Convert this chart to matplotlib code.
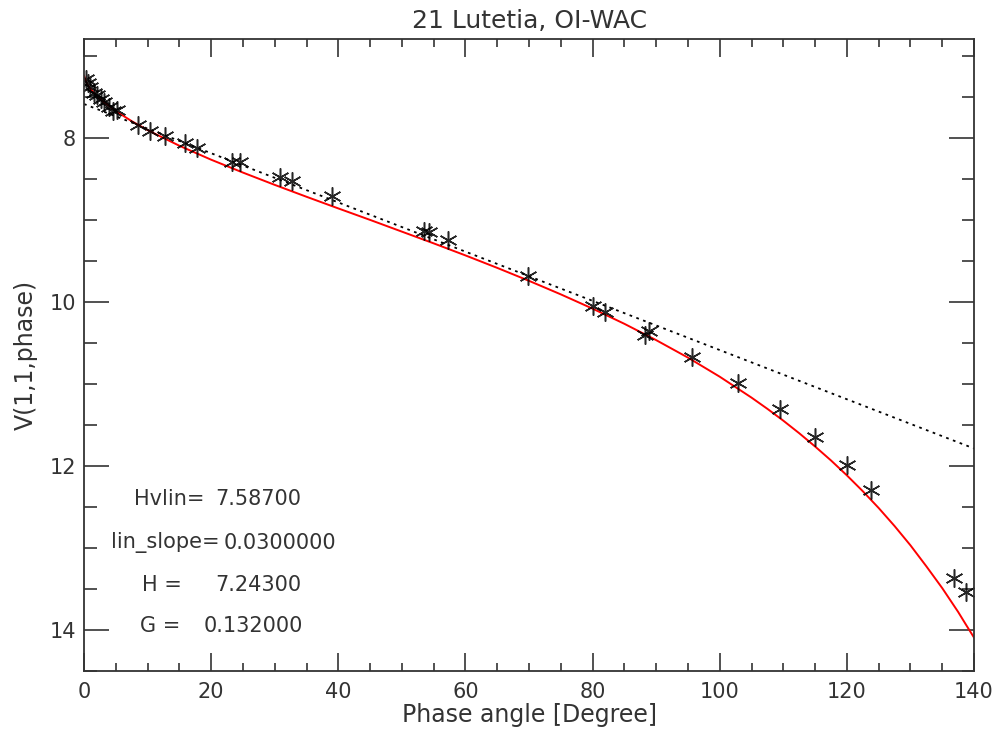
"""Phase curve of 21 Lutetia (OI-WAC) with HG and linear fits."""

import matplotlib
matplotlib.use("Agg")
import matplotlib.pyplot as plt
from matplotlib.ticker import MultipleLocator

# Observed reduced magnitudes
phase_obs = [0.3, 0.6, 1.0, 1.5, 2.0, 2.6, 3.2, 4.0, 4.6, 5.2,
             8.5, 10.4, 12.7, 15.9, 17.8, 23.2, 24.5, 30.8, 32.7, 39.0,
             53.5, 54.3, 57.2, 69.9, 80.0, 82.0, 88.2, 88.8, 95.7, 102.9,
             109.4, 115.0, 120.0, 123.8, 136.9, 138.7]
mag_obs = [7.28, 7.33, 7.38, 7.45, 7.48, 7.52, 7.56, 7.62, 7.67, 7.66,
           7.84, 7.92, 7.98, 8.06, 8.12, 8.29, 8.30, 8.48, 8.53, 8.71,
           9.13, 9.15, 9.24, 9.68, 10.05, 10.12, 10.40, 10.36, 10.67, 10.99,
           11.31, 11.65, 11.99, 12.29, 13.37, 13.54]

# HG model curve (red)
phase_hg = [0, 0.5, 1, 2, 3, 5, 7.5, 10, 15, 20, 25, 30, 35, 40, 45, 50,
            55, 60, 65, 70, 75, 80, 85, 90, 95, 100, 105, 107.5, 110, 112.5,
            115, 117.5, 120, 122.5, 125, 127.5, 130, 132.5, 135, 137.5,
            138.75, 140]
mag_hg = [7.243, 7.345, 7.400, 7.486, 7.556, 7.673, 7.796, 7.905, 8.096,
          8.266, 8.423, 8.573, 8.718, 8.860, 9.000, 9.143, 9.286, 9.433,
          9.585, 9.743, 9.908, 10.082, 10.267, 10.466, 10.679, 10.912,
          11.167, 11.304, 11.448, 11.601, 11.763, 11.933, 12.115, 12.308,
          12.513, 12.733, 12.968, 13.224, 13.490, 13.780, 13.938, 14.093]

# Linear fit (dotted)
phase_lin = [0, 140]
mag_lin = [7.587, 11.787]

fit_labels = ["Hvlin=", "lin_slope=", "H =", "G ="]
fit_values = ["7.58700", "0.0300000", "7.24300", "0.132000"]

plt.rcParams["font.family"] = ["DejaVu Sans"]
ink = "#333333"

fig = plt.figure(figsize=(9.98, 7.42), dpi=100)
ax = fig.add_axes([0.0842, 0.0957, 0.8918, 0.8511])

ax.plot(phase_lin, mag_lin, color="black", linestyle=(0, (1.5, 2.5)), linewidth=1.3)
ax.plot(phase_hg, mag_hg, color="red", linewidth=1.4)
ax.plot(phase_obs, mag_obs, linestyle="none", marker=(6, 2, 0), markersize=13,
        markeredgewidth=1.1, color="black", alpha=0.85)

ax.set_xlim(0, 140)
ax.set_ylim(14.5, 6.8)
ax.xaxis.set_major_locator(MultipleLocator(20))
ax.xaxis.set_minor_locator(MultipleLocator(5))
ax.yaxis.set_major_locator(MultipleLocator(2))
ax.yaxis.set_minor_locator(MultipleLocator(0.5))
ax.tick_params(which="both", direction="in", top=True, right=True,
               color=ink, width=1.2, labelsize=15, labelcolor=ink)
ax.tick_params(axis="x", which="major", length=13, pad=8)
ax.tick_params(axis="x", which="minor", length=6)
ax.tick_params(axis="y", which="major", length=18, pad=6)
ax.tick_params(axis="y", which="minor", length=9)
for spine in ax.spines.values():
    spine.set_color(ink)
    spine.set_linewidth(1.3)

ax.set_xlabel("Phase angle [Degree]", fontsize=17, color=ink, labelpad=1)
ax.set_ylabel("V(1,1,phase)", fontsize=17, color=ink, labelpad=8)
ax.set_title("21 Lutetia, OI-WAC", fontsize=18, color=ink, pad=8)

# fit parameters, IDL xyouts style
label_x = [0.056, 0.030, 0.065, 0.063]
value_x = [0.147, 0.157, 0.147, 0.134]
text_y = [0.272, 0.203, 0.136, 0.071]
for lab, val, lx, vx, ty in zip(fit_labels, fit_values, label_x, value_x, text_y):
    ax.text(lx, ty, lab, transform=ax.transAxes, fontsize=15, color=ink, va="center")
    ax.text(vx, ty, val, transform=ax.transAxes, fontsize=15, color=ink, va="center")

fig.savefig("out.png", dpi=100)
